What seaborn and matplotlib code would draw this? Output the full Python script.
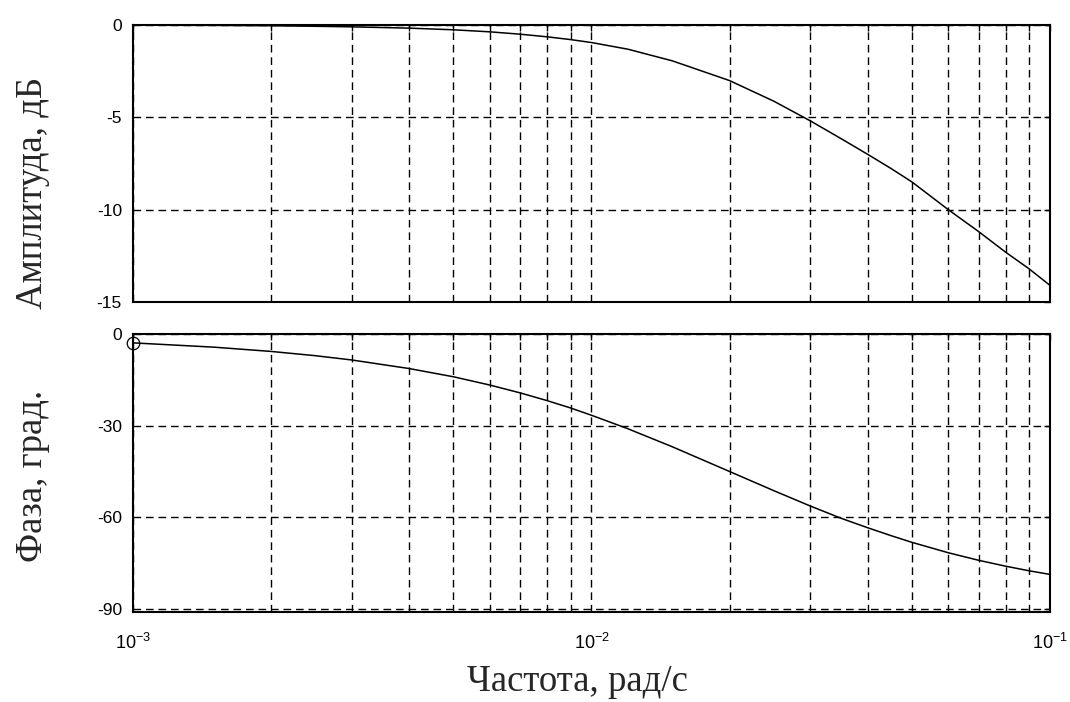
import numpy as np
import pandas as pd
import matplotlib
matplotlib.use("Agg")
import matplotlib.pyplot as plt
import seaborn as sns
from matplotlib.ticker import LogLocator, NullFormatter, FixedLocator

# ---- data ----
freq = [0.001, 0.0015, 0.002, 0.0025, 0.003, 0.004, 0.005, 0.006, 0.007, 0.008,
        0.009, 0.01, 0.012, 0.015, 0.02, 0.025, 0.03, 0.035, 0.04, 0.045,
        0.05, 0.06, 0.07, 0.08, 0.09, 0.1]
magnitude_db = [-0.01, -0.02, -0.04, -0.07, -0.10, -0.17, -0.26, -0.37, -0.50, -0.64,
                -0.79, -0.95, -1.31, -1.94, -3.01, -4.13, -5.19, -6.15, -7.00, -7.77,
                -8.50, -10.0, -11.2, -12.3, -13.2, -14.1]
phase_deg = [-2.9, -4.3, -5.7, -7.1, -8.5, -11.3, -14.0, -16.7, -19.3, -21.8,
             -24.2, -26.6, -31.0, -36.9, -45.0, -51.3, -56.3, -60.3, -63.4, -66.0,
             -68.2, -71.6, -74.1, -76.0, -77.5, -78.7]
mag_yticks = [0, -5, -10, -15]
phase_yticks = [0, -30, -60, -90]
x_ticks = [1e-3, 1e-2, 1e-1]
x_ticklabels = [r"$10^{-3}$", r"$10^{-2}$", r"$10^{-1}$"]
marker_freq = [0.001]
marker_phase = [-2.9]

ylabel_top = "Амплитуда, дБ"
ylabel_bottom = "Фаза, град."
xlabel = "Частота, рад/с"

df = pd.DataFrame({"freq": freq, "mag": magnitude_db, "phase": phase_deg})

sns.set_style("white")
plt.rcParams["font.family"] = ["Liberation Sans", "DejaVu Sans"]
plt.rcParams["mathtext.fontset"] = "custom"
plt.rcParams["mathtext.rm"] = "Liberation Sans"
plt.rcParams["mathtext.it"] = "Liberation Sans"
plt.rcParams["mathtext.bf"] = "Liberation Sans"

fig = plt.figure(figsize=(10.70, 7.02), dpi=100)
ax1 = fig.add_axes([0.1243, 0.5698, 0.8570, 0.3946])
ax2 = fig.add_axes([0.1243, 0.1282, 0.8570, 0.3960])

sns.lineplot(data=df, x="freq", y="mag", ax=ax1, color="black", linewidth=1.1)
sns.lineplot(data=df, x="freq", y="phase", ax=ax2, color="black", linewidth=1.1)
ax2.plot(marker_freq, marker_phase, marker="o", markersize=9, markerfacecolor="none",
         markeredgecolor="black", markeredgewidth=0.9, linestyle="none", zorder=5,
         clip_on=False)

grid_kw = dict(color="black", linestyle=(0, (5.5, 3.5)), linewidth=1.0)
for ax, yt, ylim in [(ax1, mag_yticks, (-15, 0)), (ax2, phase_yticks, (-91, 0))]:
    ax.set_xscale("log")
    ax.set_xlim(1e-3, 1e-1)
    ax.set_ylim(*ylim)
    ax.xaxis.set_major_locator(FixedLocator(x_ticks))
    ax.xaxis.set_minor_locator(LogLocator(base=10, subs=np.arange(2, 10)))
    ax.xaxis.set_minor_formatter(NullFormatter())
    ax.set_yticks(yt)
    ax.set_yticklabels([str(v) for v in yt])
    ax.grid(True, which="major", axis="both", **grid_kw)
    ax.grid(True, which="minor", axis="x", **grid_kw)
    ax.set_axisbelow(True)
    for s in ax.spines.values():
        s.set_visible(True)
        s.set_color("black")
        s.set_linewidth(1.5)
    ax.tick_params(axis="both", which="both", direction="in", length=4, width=1,
                   colors="black", labelsize=12.5, top=True, right=True,
                   labelcolor="black")
    ax.tick_params(axis="y", pad=8)
    ax.set_xlabel("")
    ax.set_ylabel("")

ax1.set_xticklabels([])
ax2.set_xticklabels(x_ticklabels)
ax2.tick_params(axis="x", which="major", pad=15, labelsize=13)

serif = ["Liberation Serif", "DejaVu Serif"]
fig.text(0.031, 0.725, ylabel_top, rotation=90, ha="center", va="center",
         fontsize=26.5, family=serif)
fig.text(0.031, 0.322, ylabel_bottom, rotation=90, ha="center", va="center",
         fontsize=26.5, family=serif)
fig.text(0.540, 0.0160, xlabel, ha="center", va="baseline", fontsize=26.5, family=serif)

fig.savefig("out.png", dpi=100, facecolor="white")
